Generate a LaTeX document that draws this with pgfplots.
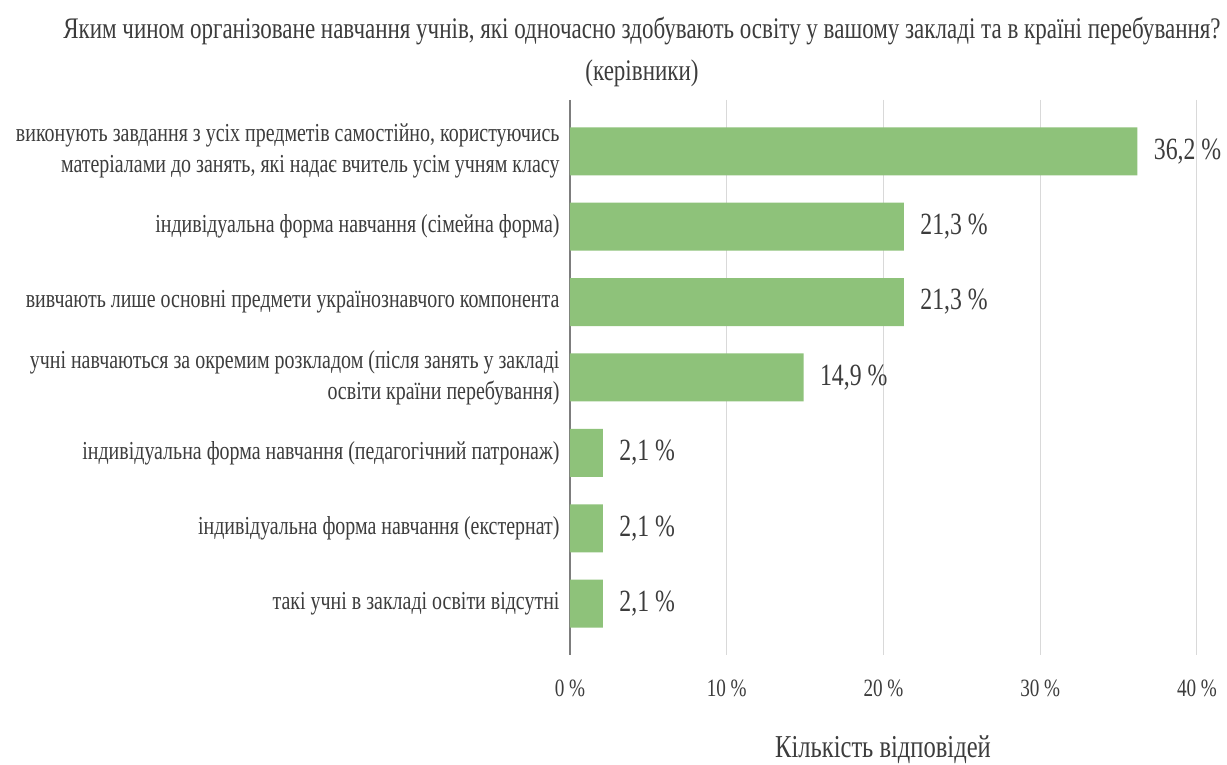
\documentclass[border=0pt]{standalone}
\usepackage{fontspec}
\setmainfont{Liberation Serif}[FakeStretch=0.77]
\usepackage{pgfplots}
\pgfplotsset{compat=1.18}
\definecolor{bargreen}{RGB}{142,194,122}
\definecolor{gridgray}{RGB}{217,217,217}
\definecolor{axgray}{RGB}{125,125,125}
\definecolor{txt}{RGB}{60,60,60}
\begin{document}
\begin{tikzpicture}[x=1bp,y=1bp]
\useasboundingbox (-570,-110) rectangle (657,655);
\begin{axis}[
  at={(0,0)}, anchor=south west,
  scale only axis, width=627bp, height=555bp,
  xbar, bar width=48bp,
  xmin=0, xmax=40,
  ymin=-0.68, ymax=6.68, y dir=reverse,
  /pgf/number format/assume math mode=true,
  axis lines*=left,
  x axis line style={draw=none},
  y axis line style={draw=axgray, line width=1.2bp},
  xmajorgrids, major grid style={draw=gridgray, line width=1bp},
  major tick length=0,
  xtick={0,10,20,30,40},
  xticklabel={\pgfmathprintnumber{\tick}~\%},
  xticklabel style={anchor=center, yshift=-33bp, font=\fontsize{25}{30}\selectfont, text=txt},
  ytick={0,...,6},
  yticklabels={{виконують завдання з усіх предметів самостійно, користуючись\\матеріалами до занять, які надає вчитель усім учням класу},
    {індивідуальна форма навчання (сімейна форма)},
    {вивчають лише основні предмети українознавчого компонента},
    {учні навчаються за окремим розкладом (після занять у закладі\\освіти країни перебування)},
    {індивідуальна форма навчання (педагогічний патронаж)},
    {індивідуальна форма навчання (екстернат)},
    {такі учні в закладі освіти відсутні}},
  yticklabel style={align=right, font=\fontsize{26}{31}\selectfont, text=txt, xshift=-7bp},
  nodes near coords={\pgfmathprintnumber[fixed,fixed zerofill,precision=1,use comma]{\pgfplotspointmeta}~\%},
  nodes near coords style={font=\fontsize{31}{36}\selectfont, text=txt, xshift=13bp},
]
\addplot[fill=bargreen, draw=none] coordinates {
  (36.2,0) (21.3,1) (21.3,2) (14.9,3) (2.1,4) (2.1,5) (2.1,6)
};
\end{axis}
\node[font=\fontsize{30}{36}\selectfont, text=txt] at (72,624) {Яким чином організоване навчання учнів, які одночасно здобувають освіту у вашому закладі та в країні перебування?};
\node[font=\fontsize{30}{36}\selectfont, text=txt] at (72,582) {(керівники)};
\node[font=\fontsize{32}{38}\selectfont, text=txt] at (313,-95) {Кількість відповідей};
\end{tikzpicture}
\end{document}
